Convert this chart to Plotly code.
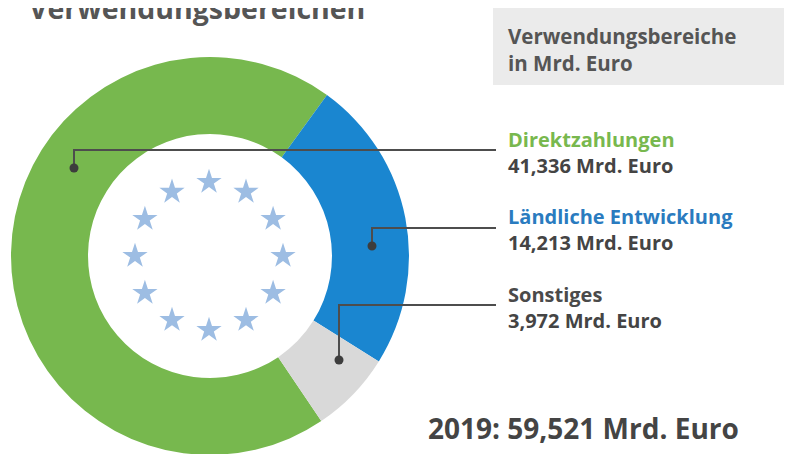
import math
import plotly.graph_objects as go

categories = ["Direktzahlungen", "Ländliche Entwicklung", "Sonstiges"]
values = [41.336, 14.213, 3.972]
value_labels = ["41,336 Mrd. Euro", "14,213 Mrd. Euro", "3,972 Mrd. Euro"]
total_label = "2019: 59,521 Mrd. Euro"
title_text = "Verwendungsbereichen"
box_lines = ["Verwendungsbereiche", "in Mrd. Euro"]

colors = ["#77b84e", "#1a86d0", "#d9d9d9"]
label_colors = ["#78b84e", "#2a7bbf", "#4a4a4a"]

W, H = 792, 454
OFF = 8  # page body margin offset
FONT = "Open Sans"

fig = go.Figure()

# pie: center at image (210,256), radius 199
pcx, pcy, pr = 210 - OFF, 256 - OFF, 199
fig.add_trace(go.Pie(
    labels=categories, values=values, sort=False, direction="clockwise",
    rotation=146, hole=0.613, marker=dict(colors=colors, line=dict(width=0)),
    textinfo="none", hoverinfo="label+value", showlegend=False,
    domain=dict(x=[(pcx - pr) / W, (pcx + pr) / W],
                y=[max(0, (H - pcy - pr) / H), min(1, (H - pcy + pr) / H)]),
))

# EU stars inside the hole
cx, cy, r = 209, 256, 74
sx = [cx + r * math.sin(math.radians(k * 30)) for k in range(12)]
sy = [cy - r * math.cos(math.radians(k * 30)) for k in range(12)]
fig.add_trace(go.Scatter(x=sx, y=sy, mode="markers",
                         marker=dict(symbol="star", size=19, color="#9dbde3", line=dict(width=0)),
                         hoverinfo="skip", showlegend=False))

shapes = []
shapes.append(dict(type="rect", xref="x", yref="y", x0=493, x1=810, y0=8, y1=85,
                   fillcolor="#ebebeb", line=dict(width=0), layer="below"))

leaders = [(74, 168, 150), (372, 246, 228), (339, 360, 305)]
for dx, dy, ey in leaders:
    shapes.append(dict(type="path", xref="x", yref="y",
                       path=f"M {dx},{dy} L {dx},{ey} L 496,{ey}",
                       line=dict(color="#4d4d4d", width=2), layer="above"))
    shapes.append(dict(type="circle", xref="x", yref="y", x0=dx - 4.5, x1=dx + 4.5,
                       y0=dy - 4.5, y1=dy + 4.5, fillcolor="#3d3d3d",
                       line=dict(width=0), layer="above"))

annotations = []
annotations.append(dict(x=27, y=29, xref="x", yref="y", xanchor="left", yanchor="bottom",
                        text=f"<b>{title_text}</b>", showarrow=False,
                        font=dict(family=FONT, size=28.5, color="#555555")))
annotations.append(dict(x=506, y=49, xref="x", yref="y", xanchor="left", yanchor="middle",
                        text="<br>".join(f"<b>{t}</b>" for t in box_lines), showarrow=False,
                        align="left", font=dict(family=FONT, size=20.5, color="#555555")))

label_y = [140, 217, 295]
for name, vl, c, ly in zip(categories, value_labels, label_colors, label_y):
    annotations.append(dict(
        x=506, y=ly + 12.5, xref="x", yref="y", xanchor="left", yanchor="middle",
        text=f"<span style='color:{c}'><b>{name}</b></span><br><b>{vl}</b>",
        showarrow=False, align="left",
        font=dict(family=FONT, size=20, color="#444444")))

annotations.append(dict(x=426, y=428, xref="x", yref="y", xanchor="left", yanchor="middle",
                        text=f"<b>{total_label}</b>", showarrow=False,
                        font=dict(family=FONT, size=28, color="#444444")))

fig.update_layout(
    width=W, height=H, margin=dict(l=0, r=0, t=0, b=0),
    paper_bgcolor="white", plot_bgcolor="rgba(0,0,0,0)",
    xaxis=dict(range=[OFF, W + OFF], visible=False, domain=[0, 1], fixedrange=True),
    yaxis=dict(range=[H + OFF, OFF], visible=False, domain=[0, 1], fixedrange=True),
    shapes=shapes, annotations=annotations,
)

fig.write_html("out.html")
